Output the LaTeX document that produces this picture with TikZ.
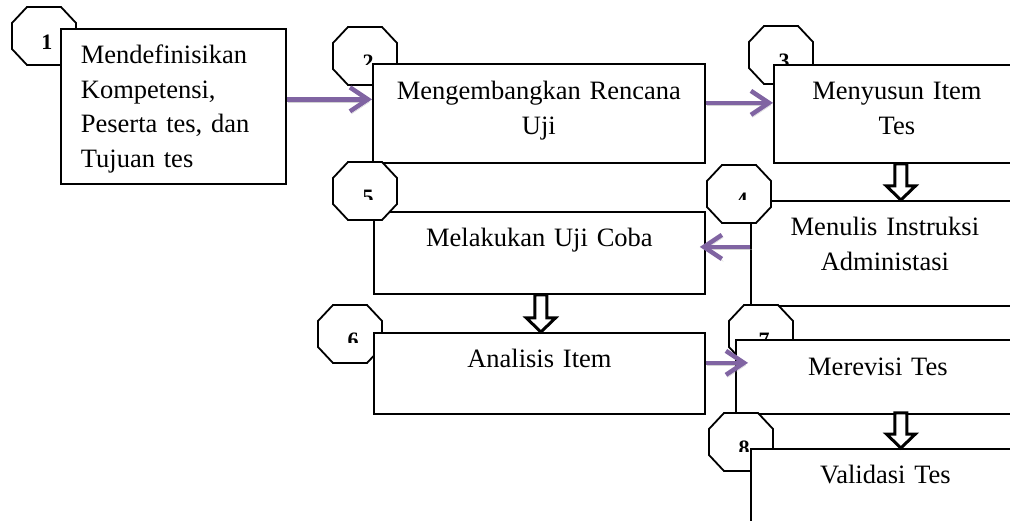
\documentclass[tikz,border=0pt]{standalone}
\usepackage{fontspec}
\setmainfont{Liberation Serif}
\usetikzlibrary{arrows.meta,calc}
\definecolor{flowpurple}{HTML}{8064A2}

% octagon with its number, cut off at depth #4
\newcommand\octagon[4]{%
  \filldraw[octline] (#1+15,#2) -- (#1+49,#2) -- (#1+64,#2+16) -- (#1+64,#2+42)
    -- (#1+49,#2+58) -- (#1+15,#2+58) -- (#1,#2+42) -- (#1,#2+16) -- cycle;
  \begin{scope}
    \clip (#1,#2) rectangle (#1+64,#2+#4);
    \node[octnum] (n#3) at (#1+35,#2+35) {#3};
  \end{scope}}

% hollow block arrow pointing down
\newcommand\hollowarrow[2]{%
  \draw[blockline] let \p1=#1, \p2=#2 in
    (\x1-6pt,\y1) -- (\x1-6pt,\y2+14pt) -- (\x1-14.5pt,\y2+14pt) -- (\x1,\y2)
    -- (\x1+14.5pt,\y2+14pt) -- (\x1+6pt,\y2+14pt) -- (\x1+6pt,\y1) -- cycle;}

\begin{document}
\begin{tikzpicture}[x=1pt, y=-1pt,
    stage/.style ={draw, line width=1.8pt, fill=white, anchor=north west,
      inner sep=0pt, align=center, font=\fontsize{26.5}{34.5}\selectfont},
    octline/.style ={draw=black, fill=white, line width=1.8pt},
    octnum/.style ={font=\fontsize{22}{22}\selectfont\bfseries, inner sep=0pt},
    flow/.style ={draw=flowpurple, line width=4.5pt,
      -{Straight Barb[length=18pt,width=24pt]},
      preaction={draw=black!35, opacity=0.5,
        transform canvas={shift={(1.5pt,-2.5pt)}}}},
    blockline/.style ={draw=black, fill=white, line width=3pt}]
   \useasboundingbox (0,0) rectangle (1010,521);
   \clip (0,0) rectangle (1010,521);

   \octagon{12}{7}{1}{43}
   \node[stage, align=left, inner xsep=20pt, text width=185pt, text height=35pt, text depth=120pt] (s1) at (60,28)
     {Mendefinisikan\\Kompetensi,\\Peserta tes, dan\\Tujuan tes};
   \octagon{333}{27}{2}{38}
   \node[stage, text width=332pt, text height=36pt, text depth=63pt] (s2) at (372,63) {Mengembangkan Rencana\\Uji};
   \octagon{749}{26}{3}{38}
   \node[stage, text width=246pt, text height=35pt, text depth=63pt] (s3) at (773,64) {Menyusun Item\\Tes};
   \node[stage, text width=268pt, text height=35pt, text depth=70pt] (s4) at (750,200) {Menulis Instruksi\\Administasi};
   \octagon{707}{165}{4}{35}
   \node[stage, text width=331pt, text height=35pt, text depth=47pt] (s5) at (373,211) {Melakukan Uji Coba};
   \octagon{333}{162}{5}{38}
   \octagon{318}{305}{6}{38}
   \node[stage, text width=331pt, text height=35pt, text depth=46pt] (s6) at (373,332) {Analisis Item};
   \octagon{729}{305}{7}{38}
   \node[stage, text width=284pt, text height=36pt, text depth=38pt] (s7) at (735,339) {Merevisi Tes};
   \octagon{709}{413}{8}{38}
   \node[stage, text width=269pt, text height=35pt, text depth=100pt] (s8) at (750,448) {Validasi Tes};

   \draw[flow] ([yshift=7pt]s1.east) -- ([yshift=7pt]s1.east -| s2.west);
   \draw[flow] ([yshift=10.5pt]s2.east) -- ([yshift=10.5pt]s2.east -| s3.west);
   \draw[flow] ([yshift=6.5pt]s4.west) -- ([yshift=6.5pt,xshift=-6pt]s4.west -| s5.east);
   \draw[flow] ([yshift=10.5pt]s6.east) -- ([yshift=10.5pt,xshift=13pt]s6.east -| s7.west);

   \hollowarrow{([xshift=4pt]s3.south)}{([xshift=4pt]s3.south |- s4.north)}
   \hollowarrow{([xshift=1.5pt]s5.south)}{([xshift=1.5pt]s5.south |- s6.north)}
   \hollowarrow{([xshift=23pt,yshift=2pt]s7.south)}{([xshift=23pt]s7.south |- s8.north)}
 \end{tikzpicture}
\end{document}
